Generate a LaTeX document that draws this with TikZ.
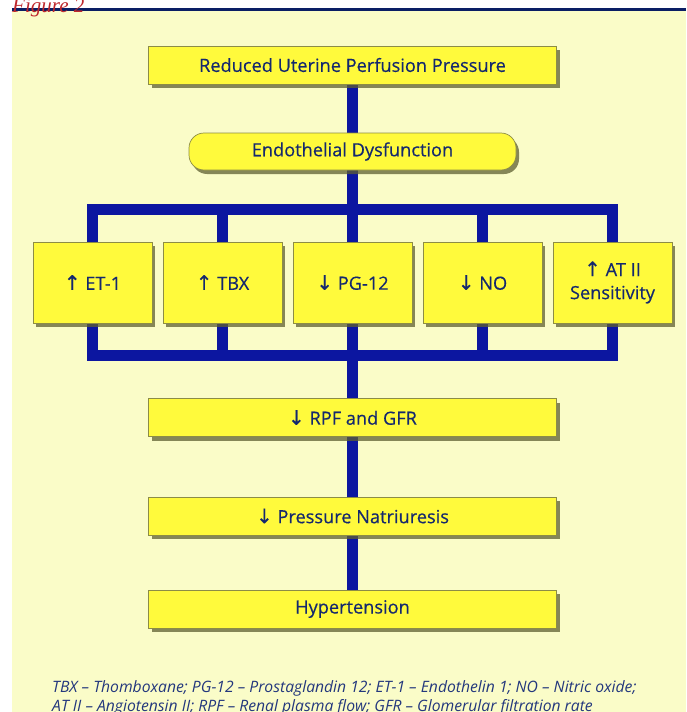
\documentclass[tikz,border=0pt]{standalone}
\usepackage{fontspec}
\setmainfont{Open Sans}
\newfontfamily\boxfont[FakeBold=0.35]{Open Sans}
\newfontfamily\figfont{Liberation Serif}
\newfontfamily\arrfont[FakeBold=0.2]{DejaVu Sans}
\usetikzlibrary{shadows}
\definecolor{bgyellow}{RGB}{250,252,200}
\definecolor{boxyellow}{RGB}{255,250,60}
\definecolor{boxedge}{RGB}{140,140,70}
\definecolor{shadowc}{RGB}{95,95,50}
\definecolor{navytext}{RGB}{20,40,110}
\definecolor{connblue}{RGB}{12,22,160}
\definecolor{ruleblue}{RGB}{10,30,100}
\definecolor{figred}{RGB}{190,40,45}
\definecolor{captc}{RGB}{35,55,125}
\newcommand{\uparr}{{\arrfont\fontsize{20}{23}\selectfont ↑}}
\newcommand{\dnarr}{{\arrfont\fontsize{20}{23}\selectfont ↓}}
\pgfdeclarelayer{back}
\pgfdeclarelayer{links}
\pgfsetlayers{back,links,main}
\tikzset{
  box/.style={draw=boxedge, line width=0.7pt, fill=boxyellow, text=navytext,
    font=\boxfont\fontsize{18.2}{23}\selectfont, align=center, inner sep=0pt,
    drop shadow={shadow xshift=3pt, shadow yshift=-4pt, fill=shadowc, opacity=0.75}},
  wide/.style={box, minimum width=408pt, minimum height=38pt},
  cell/.style={box, minimum width=119pt, minimum height=81pt},
  conn/.style={draw=connblue, line width=11pt, line join=miter},
  capt/.style={text=captc, font=\fontsize{15.7}{18}\selectfont\itshape, inner sep=0pt},
}
\begin{document}
\begin{tikzpicture}[x=1pt,y=-1pt]
\useasboundingbox (0,0) rectangle (686,712);
\begin{pgfonlayer}{back}
\fill[white] (0,0) rectangle (686,712);
\fill[bgyellow] (12,10) rectangle (686,712);
\draw[ruleblue, line width=3pt] (12,9.5) -- (686,9.5);
\end{pgfonlayer}
\node[text=figred, font=\figfont\itshape\fontsize{21}{24}\selectfont, anchor=base west, inner sep=0pt] (fig) at (12,12.5) {Figure 2};

\node[wide] (rup) at (352.5,65) {Reduced Uterine Perfusion Pressure};
\node[box, rounded corners=15pt, minimum width=327pt, minimum height=37pt] (ed) at (352.5,151.5) {Endothelial Dysfunction};

\node[cell] (et)  at (92.5,282.5)  {\uparr\ ET-1};
\node[cell] (tbx) at (222.5,282.5) {\uparr\ TBX};
\node[cell] (pg)  at (352.5,282.5) {\dnarr\ PG-12};
\node[cell] (no)  at (482.5,282.5) {\dnarr\ NO};
\node[cell] (at)  at (612.5,282.5) {\uparr\ AT II\\Sensitivity};

\node[wide] (rpf) at (352.5,417.5) {\dnarr\ RPF and GFR};
\node[wide] (pn)  at (352.5,516)   {\dnarr\ Pressure Natriuresis};
\node[wide] (hyp) at (352.5,609)   {Hypertension};

\coordinate (tl) at (92.5,209);
\coordinate (tr) at (612.5,209);
\coordinate (bl) at (92.5,355);
\coordinate (br) at (612.5,355);

\begin{pgfonlayer}{links}
\draw[conn] (rup.south) -- (ed.north);
\draw[conn] (ed.south) -- (ed.south |- tl);
\draw[conn] (et.north) -- (tl) -- (tr) -- (at.north);
\draw[conn] (tbx.north) -- (tbx.north |- tl);
\draw[conn] (pg.north) -- (pg.north |- tl);
\draw[conn] (no.north) -- (no.north |- tl);
\draw[conn] (et.south) -- (bl) -- (br) -- (at.south);
\draw[conn] (tbx.south) -- (tbx.south |- bl);
\draw[conn] (no.south) -- (no.south |- bl);
\draw[conn] (pg.south) -- (rpf.north);
\draw[conn] (rpf.south) -- (pn.north);
\draw[conn] (pn.south) -- (hyp.north);
\end{pgfonlayer}

\node[capt, anchor=base west] (cap1) at (52,692) {TBX – Thomboxane; PG-12 – Prostaglandin 12; ET-1 – Endothelin 1; NO – Nitric oxide;};
\node[capt, anchor=base west] (cap2) at (52,711) {AT II – Angiotensin II; RPF – Renal plasma flow; GFR – Glomerular filtration rate};
\end{tikzpicture}
\end{document}
